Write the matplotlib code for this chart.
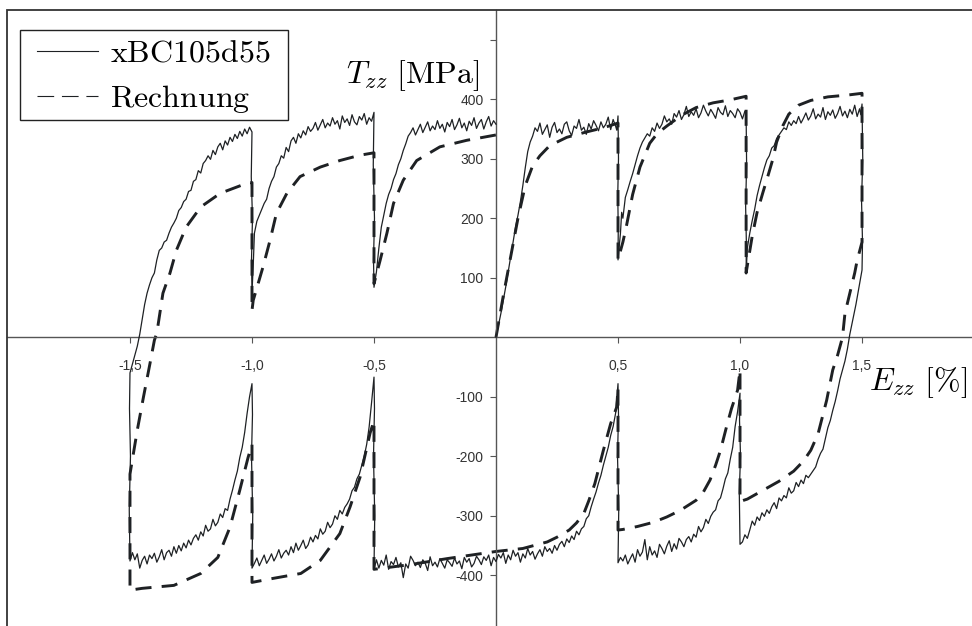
import numpy as np
import matplotlib
matplotlib.use("Agg")
import matplotlib.pyplot as plt
from matplotlib.lines import Line2D
from matplotlib.patches import Rectangle

plt.rcParams['mathtext.fontset'] = 'cm'
plt.rcParams['font.family'] = ['Liberation Sans', 'DejaVu Sans']

# --- Messung xBC105d55 (Dehnung [%], Spannung [MPa]) ---
exp_zug_1 = [(0.00, 0), (0.02, 40), (0.04, 85), (0.06, 135), (0.07, 160), (0.08, 185), (0.09, 205),
             (0.10, 228), (0.11, 255), (0.12, 285), (0.13, 312), (0.14, 328), (0.15, 338), (0.16, 352),
             (0.17, 346), (0.18, 360), (0.19, 341), (0.20, 349), (0.21, 357), (0.22, 336), (0.23, 353),
             (0.24, 361), (0.25, 344), (0.26, 350), (0.27, 342), (0.28, 358), (0.29, 362), (0.30, 347),
             (0.31, 339), (0.32, 355), (0.33, 351), (0.34, 366), (0.35, 348), (0.36, 353), (0.37, 341),
             (0.38, 359), (0.39, 350), (0.40, 364), (0.41, 356), (0.42, 347), (0.43, 362), (0.44, 352),
             (0.45, 358), (0.46, 370), (0.47, 349), (0.48, 366), (0.49, 355), (0.495, 348), (0.50, 372),
             (0.502, 300), (0.499, 240), (0.501, 180), (0.50, 130)]
exp_zug_2 = [(0.51, 175), (0.515, 210), (0.52, 200), (0.53, 235), (0.54, 248), (0.55, 262), (0.56, 275),
             (0.57, 290), (0.58, 305), (0.59, 318), (0.60, 328), (0.61, 335), (0.62, 342), (0.63, 338),
             (0.64, 352), (0.65, 346), (0.66, 360), (0.67, 351), (0.68, 358), (0.69, 372), (0.70, 362),
             (0.71, 367), (0.72, 358), (0.73, 376), (0.74, 370), (0.75, 381), (0.76, 366), (0.77, 374),
             (0.78, 388), (0.79, 371), (0.80, 379), (0.81, 373), (0.82, 384), (0.83, 369), (0.84, 377),
             (0.85, 390), (0.86, 380), (0.87, 372), (0.88, 383), (0.89, 376), (0.90, 368), (0.91, 386),
             (0.92, 378), (0.93, 374), (0.94, 389), (0.95, 371), (0.96, 381), (0.97, 376), (0.98, 369),
             (0.99, 384), (1.00, 378), (1.01, 367), (1.02, 380), (1.025, 376),
             (1.027, 290), (1.023, 220), (1.026, 160), (1.025, 107)]
exp_zug_3 = [(1.03, 150), (1.04, 175), (1.05, 196), (1.06, 215), (1.07, 238), (1.08, 255), (1.09, 270),
             (1.10, 285), (1.11, 298), (1.12, 305), (1.13, 318), (1.14, 322), (1.15, 334), (1.16, 340),
             (1.17, 346), (1.18, 352), (1.19, 349), (1.20, 362), (1.21, 356), (1.22, 364), (1.23, 359),
             (1.24, 371), (1.25, 360), (1.26, 368), (1.27, 377), (1.28, 365), (1.29, 372), (1.30, 384),
             (1.31, 367), (1.32, 375), (1.33, 370), (1.34, 386), (1.35, 366), (1.36, 379), (1.37, 373),
             (1.38, 382), (1.39, 368), (1.40, 376), (1.41, 388), (1.42, 372), (1.43, 380), (1.44, 369),
             (1.45, 383), (1.46, 375), (1.47, 390), (1.48, 371), (1.49, 384), (1.495, 374), (1.50, 392),
             (1.503, 300), (1.498, 230), (1.502, 160), (1.50, 113)]
exp_druck_1 = [(1.49, 90), (1.475, 55), (1.46, 25), (1.45, 5), (1.44, -20), (1.43, -40), (1.42, -55),
               (1.41, -70), (1.40, -90), (1.39, -108), (1.38, -123), (1.37, -140), (1.36, -152), (1.35, -170),
               (1.34, -188), (1.33, -195), (1.32, -205), (1.31, -218), (1.30, -224), (1.29, -230), (1.28, -236),
               (1.27, -232), (1.26, -246), (1.25, -240), (1.24, -251), (1.23, -244), (1.22, -258), (1.21, -262),
               (1.20, -253), (1.19, -270), (1.18, -266), (1.17, -275), (1.16, -270), (1.15, -288), (1.14, -278),
               (1.13, -285), (1.12, -296), (1.11, -290), (1.10, -301), (1.09, -295), (1.08, -308), (1.07, -302),
               (1.06, -316), (1.05, -309), (1.04, -324), (1.03, -338), (1.02, -332), (1.01, -344), (1.00, -348),
               (0.997, -260), (1.002, -200), (0.998, -140), (1.00, -94)]
exp_druck_2 = [(0.99, -125), (0.98, -150), (0.97, -185), (0.96, -205), (0.95, -228), (0.94, -238),
               (0.93, -255), (0.92, -270), (0.91, -275), (0.90, -290), (0.89, -294), (0.88, -301), (0.87, -313),
               (0.86, -306), (0.85, -320), (0.84, -327), (0.83, -318), (0.82, -336), (0.81, -331), (0.80, -344),
               (0.79, -335), (0.78, -340), (0.77, -352), (0.76, -344), (0.75, -338), (0.74, -356), (0.73, -347),
               (0.72, -360), (0.71, -342), (0.70, -351), (0.69, -364), (0.68, -355), (0.67, -348), (0.66, -370),
               (0.65, -359), (0.64, -366), (0.63, -352), (0.62, -374), (0.61, -340), (0.60, -361), (0.59, -368),
               (0.58, -357), (0.57, -378), (0.56, -364), (0.55, -372), (0.54, -381), (0.53, -366), (0.52, -376),
               (0.51, -370), (0.50, -379), (0.503, -290), (0.498, -200), (0.502, -130), (0.50, -78)]
exp_druck_3 = [(0.49, -128), (0.48, -150), (0.47, -165), (0.46, -185), (0.45, -200), (0.44, -215),
               (0.43, -232), (0.42, -245), (0.41, -260), (0.40, -272), (0.39, -285), (0.38, -300), (0.37, -305),
               (0.36, -318), (0.35, -322), (0.34, -332), (0.33, -326), (0.32, -340), (0.31, -334), (0.30, -345),
               (0.29, -339), (0.28, -352), (0.27, -343), (0.26, -348), (0.25, -358), (0.24, -350), (0.23, -363),
               (0.22, -355), (0.21, -360), (0.20, -352), (0.19, -368), (0.18, -357), (0.17, -364), (0.16, -373),
               (0.15, -360), (0.14, -366), (0.13, -355), (0.12, -371), (0.11, -364), (0.10, -378), (0.09, -362),
               (0.08, -368), (0.07, -358), (0.06, -374), (0.05, -366), (0.04, -380), (0.03, -362), (0.02, -371),
               (0.01, -365), (0.00, -377), (-0.01, -370), (-0.02, -384), (-0.03, -366), (-0.04, -375),
               (-0.05, -369), (-0.06, -382), (-0.07, -374), (-0.08, -368), (-0.09, -380), (-0.10, -386),
               (-0.11, -372), (-0.12, -378), (-0.13, -370), (-0.14, -389), (-0.15, -376), (-0.16, -381),
               (-0.17, -371), (-0.18, -385), (-0.19, -379), (-0.20, -374), (-0.21, -388), (-0.22, -380),
               (-0.23, -372), (-0.24, -386), (-0.25, -378), (-0.26, -384), (-0.27, -369), (-0.28, -392),
               (-0.29, -380), (-0.30, -374), (-0.31, -387), (-0.32, -378), (-0.33, -384), (-0.34, -375),
               (-0.35, -368), (-0.36, -388), (-0.37, -381), (-0.38, -404), (-0.39, -379), (-0.40, -386),
               (-0.41, -370), (-0.42, -382), (-0.43, -377), (-0.44, -390), (-0.45, -366), (-0.46, -383),
               (-0.47, -375), (-0.48, -388), (-0.49, -374), (-0.50, -390),
               (-0.497, -300), (-0.502, -200), (-0.498, -120), (-0.50, -67)]
exp_druck_4 = [(-0.51, -110), (-0.52, -151), (-0.53, -180), (-0.54, -200), (-0.55, -215), (-0.56, -230),
               (-0.57, -238), (-0.58, -252), (-0.59, -258), (-0.60, -272), (-0.61, -280), (-0.62, -286),
               (-0.63, -297), (-0.64, -291), (-0.65, -306), (-0.66, -300), (-0.67, -314), (-0.68, -320),
               (-0.69, -311), (-0.70, -326), (-0.71, -331), (-0.72, -322), (-0.73, -339), (-0.74, -333),
               (-0.75, -344), (-0.76, -336), (-0.77, -349), (-0.78, -355), (-0.79, -341), (-0.80, -350),
               (-0.81, -358), (-0.82, -346), (-0.83, -362), (-0.84, -352), (-0.85, -366), (-0.86, -358),
               (-0.87, -363), (-0.88, -371), (-0.89, -357), (-0.90, -368), (-0.91, -376), (-0.92, -364),
               (-0.93, -373), (-0.94, -380), (-0.95, -366), (-0.96, -375), (-0.97, -384), (-0.98, -371),
               (-0.99, -380), (-1.00, -388), (-0.997, -300), (-1.002, -200), (-0.998, -130), (-1.00, -78)]
exp_druck_5 = [(-1.01, -100), (-1.02, -128), (-1.03, -160), (-1.04, -185), (-1.05, -202), (-1.06, -225),
               (-1.07, -240), (-1.08, -257), (-1.09, -272), (-1.10, -291), (-1.11, -288), (-1.12, -303),
               (-1.13, -297), (-1.14, -311), (-1.15, -317), (-1.16, -306), (-1.17, -322), (-1.18, -326),
               (-1.19, -316), (-1.20, -334), (-1.21, -327), (-1.22, -341), (-1.23, -332), (-1.24, -338),
               (-1.25, -349), (-1.26, -341), (-1.27, -354), (-1.28, -346), (-1.29, -359), (-1.30, -350),
               (-1.31, -363), (-1.32, -352), (-1.33, -368), (-1.34, -358), (-1.35, -362), (-1.36, -374),
               (-1.37, -357), (-1.38, -369), (-1.39, -378), (-1.40, -363), (-1.41, -372), (-1.42, -366),
               (-1.43, -381), (-1.44, -368), (-1.45, -375), (-1.46, -388), (-1.47, -364), (-1.48, -374),
               (-1.49, -362), (-1.50, -376), (-1.503, -290), (-1.498, -200), (-1.502, -120), (-1.50, -60)]
exp_zug_4 = [(-1.48, -30), (-1.47, -15), (-1.46, 5), (-1.45, 30), (-1.44, 55), (-1.43, 74), (-1.42, 88),
             (-1.41, 100), (-1.40, 108), (-1.39, 130), (-1.38, 146), (-1.37, 150), (-1.36, 160), (-1.35, 163),
             (-1.34, 175), (-1.33, 185), (-1.32, 192), (-1.31, 200), (-1.30, 213), (-1.29, 218), (-1.28, 228),
             (-1.27, 232), (-1.26, 245), (-1.25, 247), (-1.24, 262), (-1.23, 265), (-1.22, 280), (-1.21, 276),
             (-1.20, 292), (-1.19, 297), (-1.18, 305), (-1.17, 299), (-1.16, 314), (-1.15, 307), (-1.14, 320),
             (-1.13, 326), (-1.12, 315), (-1.11, 330), (-1.10, 323), (-1.09, 336), (-1.08, 329), (-1.07, 341),
             (-1.06, 334), (-1.05, 346), (-1.04, 338), (-1.03, 350), (-1.02, 342), (-1.01, 353), (-1.00, 345),
             (-1.003, 270), (-0.998, 200), (-1.002, 130), (-1.00, 75)]
exp_zug_5 = [(-0.995, 120), (-0.99, 175), (-0.98, 195), (-0.97, 205), (-0.96, 215), (-0.95, 225),
             (-0.94, 232), (-0.93, 250), (-0.92, 262), (-0.91, 270), (-0.90, 286), (-0.89, 292), (-0.88, 305),
             (-0.87, 301), (-0.86, 319), (-0.85, 312), (-0.84, 330), (-0.83, 336), (-0.82, 326), (-0.81, 342),
             (-0.80, 335), (-0.79, 347), (-0.78, 340), (-0.77, 354), (-0.76, 346), (-0.75, 351), (-0.74, 361),
             (-0.73, 348), (-0.72, 357), (-0.71, 366), (-0.70, 352), (-0.69, 360), (-0.68, 355), (-0.67, 369),
             (-0.66, 358), (-0.65, 364), (-0.64, 350), (-0.63, 372), (-0.62, 361), (-0.61, 367), (-0.60, 356),
             (-0.59, 374), (-0.58, 362), (-0.57, 357), (-0.56, 371), (-0.55, 365), (-0.54, 376), (-0.53, 358),
             (-0.52, 369), (-0.51, 363), (-0.50, 378), (-0.503, 290), (-0.498, 200), (-0.502, 130), (-0.50, 84)]
exp_zug_6 = [(-0.49, 110), (-0.48, 150), (-0.47, 185), (-0.46, 205), (-0.45, 225), (-0.44, 240),
             (-0.43, 250), (-0.42, 265), (-0.41, 275), (-0.40, 290), (-0.39, 300), (-0.38, 314), (-0.37, 325),
             (-0.36, 338), (-0.35, 344), (-0.34, 352), (-0.33, 340), (-0.32, 349), (-0.31, 358), (-0.30, 344),
             (-0.29, 353), (-0.28, 362), (-0.27, 347), (-0.26, 355), (-0.25, 349), (-0.24, 364), (-0.23, 351),
             (-0.22, 358), (-0.21, 345), (-0.20, 361), (-0.19, 354), (-0.18, 366), (-0.17, 349), (-0.16, 357),
             (-0.15, 368), (-0.14, 352), (-0.13, 360), (-0.12, 347), (-0.11, 363), (-0.10, 356), (-0.09, 369),
             (-0.08, 351), (-0.07, 360), (-0.06, 366), (-0.05, 350), (-0.04, 362), (-0.03, 371), (-0.02, 355),
             (-0.01, 364), (0.00, 358)]

# --- Rechnung ---
calc_zug_1 = [(0.00, 0), (0.03, 70), (0.06, 135), (0.09, 200), (0.12, 255), (0.15, 288), (0.18, 305),
              (0.22, 322), (0.29, 336), (0.37, 345), (0.44, 352), (0.50, 360), (0.50, 130)]
calc_zug_2 = [(0.52, 160), (0.535, 188), (0.56, 240), (0.59, 286), (0.63, 326), (0.66, 342), (0.70, 355),
              (0.76, 373), (0.82, 386), (0.89, 394), (0.96, 399), (1.025, 405), (1.025, 108)]
calc_zug_3 = [(1.05, 170), (1.07, 210), (1.095, 245), (1.11, 265), (1.135, 300), (1.15, 328), (1.175, 355),
              (1.20, 375), (1.24, 390), (1.29, 398), (1.36, 404), (1.44, 407), (1.50, 410), (1.50, 160)]
calc_druck_1 = [(1.48, 129), (1.47, 108), (1.45, 74), (1.43, 40), (1.42, 0), (1.40, -30), (1.38, -55),
                (1.355, -106), (1.32, -162), (1.29, -190), (1.26, -208), (1.22, -225), (1.16, -242),
                (1.095, -257), (1.03, -272), (1.00, -276), (1.00, -55)]
calc_druck_2 = [(0.99, -89), (0.965, -120), (0.945, -150), (0.92, -190), (0.90, -215), (0.877, -240),
                (0.85, -260), (0.82, -274), (0.755, -291), (0.70, -302), (0.645, -311), (0.58, -318),
                (0.52, -323), (0.50, -324), (0.50, -85)]
calc_druck_3 = [(0.495, -117), (0.47, -145), (0.44, -190), (0.405, -246), (0.38, -275), (0.36, -296),
                (0.33, -312), (0.30, -324), (0.25, -336), (0.21, -344), (0.11, -355), (0.00, -360),
                (-0.10, -366), (-0.20, -372), (-0.35, -382), (-0.50, -390), (-0.50, -140)]
calc_druck_4 = [(-0.516, -161), (-0.557, -235), (-0.598, -285), (-0.64, -330), (-0.72, -375), (-0.80, -397),
                (-0.91, -405), (-1.00, -412), (-1.00, -180)]
calc_druck_5 = [(-1.016, -202), (-1.05, -257), (-1.09, -319), (-1.14, -370), (-1.21, -397), (-1.32, -417),
                (-1.45, -422), (-1.50, -425), (-1.50, -230)]
calc_zug_4 = [(-1.47, -156), (-1.445, -101), (-1.418, -44), (-1.40, -5), (-1.39, 7), (-1.365, 74),
              (-1.336, 108), (-1.31, 146), (-1.27, 185), (-1.21, 219), (-1.13, 242), (-1.02, 259),
              (-1.00, 260), (-1.00, 45)]
calc_zug_5 = [(-0.995, 62), (-0.955, 118), (-0.926, 163), (-0.90, 208), (-0.857, 242), (-0.803, 270),
              (-0.72, 286), (-0.64, 297), (-0.557, 306), (-0.50, 310), (-0.50, 90)]
calc_zug_6 = [(-0.475, 129), (-0.447, 175), (-0.42, 225), (-0.38, 264), (-0.325, 297), (-0.23, 320),
              (-0.12, 331), (0.00, 340)]

exp_pfad = (exp_zug_1 + exp_zug_2 + exp_zug_3 + exp_druck_1 + exp_druck_2 + exp_druck_3
            + exp_druck_4 + exp_druck_5 + exp_zug_4 + exp_zug_5 + exp_zug_6)
calc_pfad = (calc_zug_1 + calc_zug_2 + calc_zug_3 + calc_druck_1 + calc_druck_2 + calc_druck_3
             + calc_druck_4 + calc_druck_5 + calc_zug_4 + calc_zug_5 + calc_zug_6)

x_ticks = [-1.5, -1.0, -0.5, 0.5, 1.0, 1.5]
x_labels = ['-1,5', '-1,0', '-0,5', '0,5', '1,0', '1,5']
y_ticks = [-400, -300, -200, -100, 100, 200, 300, 400, 500]
y_labels = ['-400', '-300', '-200', '-100', '100', '200', '300', '400', '']

fig = plt.figure(figsize=(9.72, 6.26), dpi=100)
ax = fig.add_axes([7 / 972, -4 / 626, 968 / 972, 620 / 626])
ax.set_xlim(-2.004, 1.963)
ax.set_ylim(-492, 550)

e_exp, t_exp = np.array(exp_pfad).T
e_calc, t_calc = np.array(calc_pfad).T
ax.plot(e_exp, t_exp, color='#1e2124', lw=0.9, zorder=3)
ax.plot(e_calc, t_calc, color='#1e2124', lw=2.1, dashes=(5.5, 3.5), zorder=2)

# Achsenkreuz durch den Ursprung
achse = '#555555'
for s in ['top', 'right']:
    ax.spines[s].set_visible(False)
ax.spines['left'].set_position(('data', 0))
ax.spines['bottom'].set_position(('data', 0))
ax.spines['left'].set_color(achse)
ax.spines['bottom'].set_color(achse)
ax.spines['left'].set_linewidth(1.0)
ax.spines['bottom'].set_linewidth(1.0)
ax.set_xticks(x_ticks, x_labels)
ax.set_yticks(y_ticks, y_labels)
ax.tick_params(axis='x', direction='out', length=4, width=0.8, color=achse, pad=12,
               labelsize=10, labelcolor='#333333')
ax.tick_params(axis='y', direction='out', length=4, width=0.8, color=achse, pad=5,
               labelsize=10, labelcolor='#333333')

# Rahmen um das ganze Bild
ax.add_patch(Rectangle((0, 0), 1, 1, transform=ax.transAxes, fill=False,
                       edgecolor='#333333', lw=1.3, clip_on=False, zorder=5))

ax.text(-0.066, 427, r'$T_{zz}\ [\mathrm{MPa}]$', ha='right', va='baseline', fontsize=23)
ax.text(1.930, -89, r'$E_{zz}\ [\%]$', ha='right', va='baseline', fontsize=23)

# Legende: Rahmen separat, Inhalt ohne eigenen Rahmen
handles = [Line2D([], [], color='#1e2124', lw=0.8),
           Line2D([], [], color='#1e2124', lw=0.8, dashes=(15, 7))]
leg = ax.legend(handles, [r'$\mathrm{xBC105d55}$', r'$\mathrm{Rechnung}$'],
                loc='upper left', bbox_to_anchor=(37 / 972, 1 - 39 / 626),
                bbox_transform=fig.transFigure, borderaxespad=0, borderpad=0, fontsize=23,
                handlelength=1.9, handletextpad=0.4, labelspacing=0.45, frameon=False)
fig.patches.append(Rectangle((20 / 972, 1 - 120 / 626), 268 / 972, 90 / 626,
                             transform=fig.transFigure, fill=False, edgecolor='#222222',
                             lw=1.0, zorder=6))

fig.savefig('out.png', dpi=100)
